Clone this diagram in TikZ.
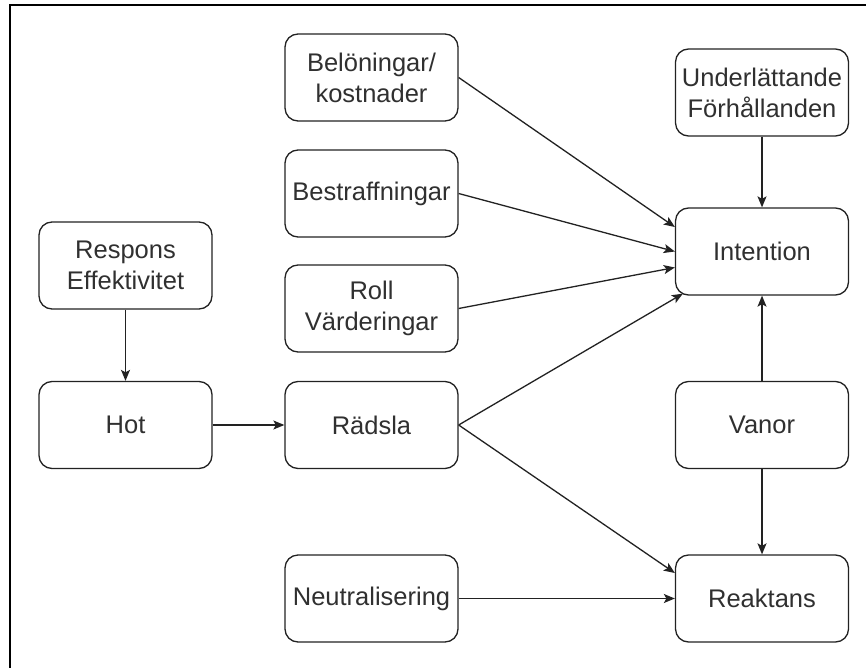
\documentclass[tikz,border=0pt]{standalone}
\usepackage{fontspec}
\setmainfont{Liberation Sans}
\usetikzlibrary{arrows.meta}
\definecolor{ink}{HTML}{222222}
\definecolor{txt}{HTML}{303030}
\tikzset{
  box/.style={draw=ink, line width=1.3pt, rounded corners=13pt,
    minimum width=173pt, minimum height=87pt, inner sep=0pt,
    align=center, text=txt, font=\fontsize{25.5}{31}\selectfont},
  link/.style={draw=ink, line width=1.3pt,
    -{Stealth[length=11pt, width=9pt, inset=2.5pt]}},
}
\begin{document}
\begin{tikzpicture}[x=1pt, y=-1pt]
\useasboundingbox (0,0) rectangle (866,668);
\fill[white] (0,0) rectangle (866,668);
% outer frame (open to the right and bottom)
\draw[black, line width=1.6pt] (10,670) -- (10,5) -- (868,5);

% boxes
\node[box] (bel)  at (371.5, 77.5) {Belöningar/\\kostnader};
\node[box] (bes)  at (371.5,193.5) {Bestraffningar};
\node[box] (roll) at (371.5,308.5) {Roll\\Värderingar};
\node[box] (resp) at (125.5,265.5) {Respons\\Effektivitet};
\node[box] (hot)  at (125.5,425)   {Hot};
\node[box] (rad)  at (371.5,425)   {Rädsla};
\node[box] (neu)  at (371.5,598.5) {Neutralisering};
\node[box] (und)  at (762, 92.5)   {Underlättande\\Förhållanden};
\node[box] (int)  at (762,251.5)   {Intention};
\node[box] (van)  at (762,425)     {Vanor};
\node[box] (rea)  at (762,598.5)   {Reaktans};

% connectors
\draw[link] (resp.south) -- (hot.north);
\draw[link] (hot.east) -- (rad.west);
\draw[link] (bel.east) -- ([yshift=24.5pt]int.west);
\draw[link] (bes.east) -- (int.west);
\draw[link] (roll.east) -- ([yshift=-16pt]int.west);
\draw[link] (rad.east) -- ([xshift=8pt,yshift=2pt]int.south west);
\draw[link] (rad.east) -- ([yshift=25.5pt]rea.west);
\draw[link] (neu.east) -- (rea.west);
\draw[link] (und.south) -- (int.north);
\draw[link] (van.north) -- (int.south);
\draw[link] (van.south) -- (rea.north);
\end{tikzpicture}
\end{document}
